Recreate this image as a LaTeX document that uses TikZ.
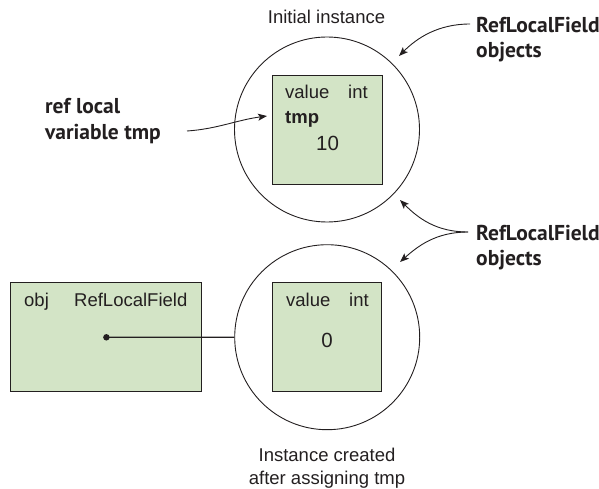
\documentclass[tikz,border=0pt]{standalone}
\usepackage{fontspec}
\setmainfont{Liberation Sans}
\newfontfamily\labfont{PT Sans}
\usetikzlibrary{arrows.meta}
\definecolor{boxfill}{HTML}{D3E4C6}
\definecolor{ink}{HTML}{231F20}
\begin{document}
\begin{tikzpicture}[x=1pt,y=-1pt,
  every node/.style={text=ink, inner sep=0pt},
  obj/.style={draw=ink, line width=0.9pt, fill=boxfill},
  ring/.style={circle, draw=ink, line width=0.9pt, minimum size=185pt},
  txt/.style={font=\fontsize{18.5}{22}\selectfont, anchor=base west},
  ctxt/.style={font=\fontsize{18.5}{22}\selectfont, anchor=base},
  num/.style={font=\fontsize{20.5}{24}\selectfont, anchor=base},
  lab/.style={font=\labfont\bfseries\fontsize{21.5}{25}\selectfont, anchor=base west},
  pointer/.style={draw=ink, line width=0.9pt, -{Stealth[length=9pt,width=7pt,inset=2pt]}}]
\useasboundingbox (0,0) rectangle (599,489);

% top instance
\node[ring] (c1) at (327,129.5) {};
\node[obj, minimum width=110pt, minimum height=109pt] (b1) at (327,129.5) {};
\node[txt] (v1) at (285,98.5) {value};
\node[txt] (i1) at (348,98.5) {int};
\node[txt, font=\bfseries\fontsize{18.5}{22}\selectfont] (t1) at (285,123.5) {tmp};
\node[num] (n1) at (327.5,150.3) {10};
\node[ctxt] (cap1) at (326.5,23.5) {Initial instance};

% bottom instance
\node[ring] (c2) at (327.2,337.2) {};
\node[obj, minimum width=109pt, minimum height=109pt] (b2) at (327.4,337.2) {};
\node[txt] (v2) at (286,306.5) {value};
\node[txt] (i2) at (349,306.5) {int};
\node[num] (n2) at (327,347.3) {0};
\node[ctxt] (cap2a) at (327,461.5) {Instance created};
\node[ctxt] (cap2b) at (327,484) {after assigning tmp};

% obj box
\node[obj, minimum width=191pt, minimum height=109pt] (b3) at (106.3,337.2) {};
\node[txt] (o3) at (24,306.5) {obj};
\node[txt] (r3) at (74,306.5) {RefLocalField};
\node[circle, fill=ink, minimum size=6.5pt] (dot) at (106.4,337.3) {};
\draw[ink, line width=1.1pt] (dot.center) -- (c2.west);

% labels
\node[lab] (la1) at (476,32.5) {RefLocalField};
\node[lab] (la2) at (476,57.5) {objects};
\node[lab] (lb1) at (476,240.5) {RefLocalField};
\node[lab] (lb2) at (476,265.5) {objects};
\node[lab] (lc1) at (45,114) {ref local};
\node[lab] (lc2) at (45,140) {variable tmp};

\coordinate (sa) at (470,24);
\coordinate (ea) at (399,56);
\coordinate (sb) at (468,232);
\coordinate (eb1) at (400,200);
\coordinate (eb2) at (400,262);
\coordinate (sc) at (187,131);
\coordinate (ec) at (267,116);

\draw[pointer] (sa) .. controls +(-32,0) and +(18,-18) .. (ea);
\draw[pointer] (sb) .. controls +(-32,0) and +(18,18) .. (eb1);
\draw[pointer] (sb) .. controls +(-32,0) and +(18,-16) .. (eb2);
\draw[pointer] (sc) .. controls +(30,-2) and +(-30,4) .. (ec);
\end{tikzpicture}
\end{document}
